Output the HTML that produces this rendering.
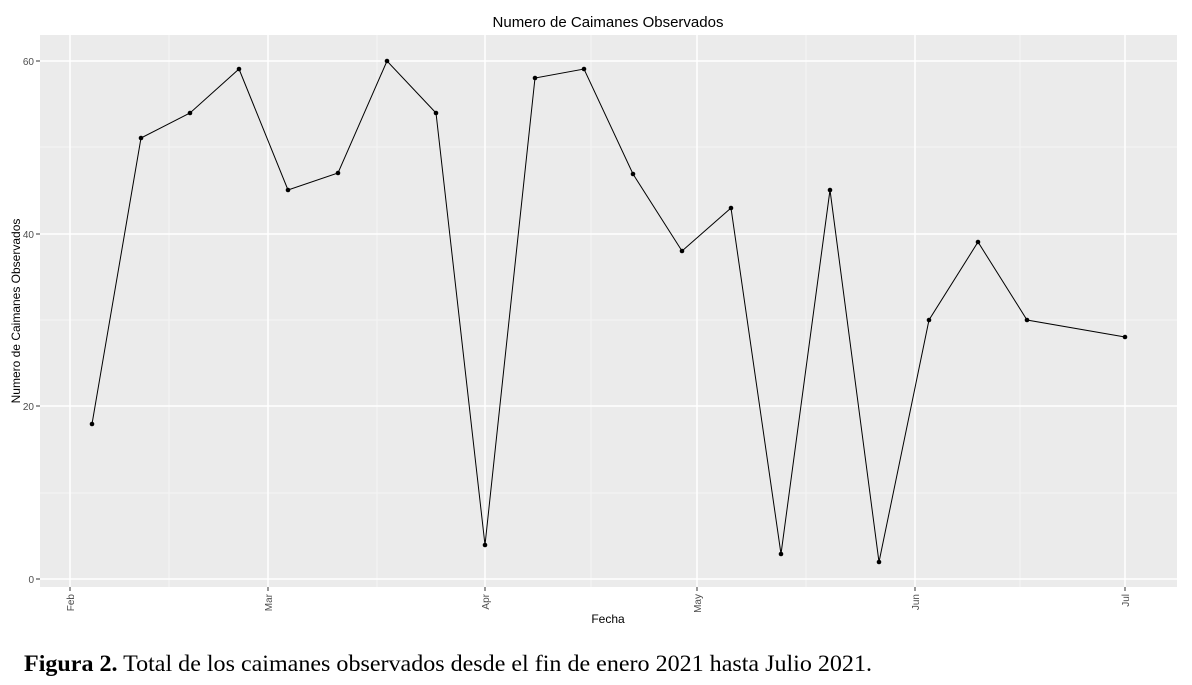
<!DOCTYPE html>
<html><head><style>
html,body{margin:0;padding:0;background:#fff;}
svg{display:block;}
</style></head><body>
<svg width="1192" height="685" xmlns="http://www.w3.org/2000/svg" font-family="Liberation Sans, Arial, sans-serif">
<rect x="0" y="0" width="1192" height="685" fill="#fff"/>
<text x="608" y="27" font-size="15" text-anchor="middle" fill="#000">Numero de Caimanes Observados</text>
<rect x="40" y="35" width="1137" height="552" fill="#ebebeb"/>
<g stroke="#f7f7f7" stroke-width="0.8">
<line x1="40" x2="1177" y1="493" y2="493"/><line x1="40" x2="1177" y1="320" y2="320"/><line x1="40" x2="1177" y1="147" y2="147"/>
<line x1="169" x2="169" y1="35" y2="587"/><line x1="377" x2="377" y1="35" y2="587"/><line x1="591" x2="591" y1="35" y2="587"/><line x1="806" x2="806" y1="35" y2="587"/><line x1="1020" x2="1020" y1="35" y2="587"/>
</g>
<g stroke="#fff" stroke-width="1.5">
<line x1="40" x2="1177" y1="579" y2="579"/><line x1="40" x2="1177" y1="406" y2="406"/><line x1="40" x2="1177" y1="234" y2="234"/><line x1="40" x2="1177" y1="61" y2="61"/>
<line x1="70" x2="70" y1="35" y2="587"/><line x1="268" x2="268" y1="35" y2="587"/><line x1="485" x2="485" y1="35" y2="587"/><line x1="697" x2="697" y1="35" y2="587"/><line x1="915" x2="915" y1="35" y2="587"/><line x1="1125" x2="1125" y1="35" y2="587"/>
</g>
<g stroke="#333" stroke-width="1">
<line x1="36" x2="40" y1="579" y2="579"/><line x1="36" x2="40" y1="406" y2="406"/><line x1="36" x2="40" y1="234" y2="234"/><line x1="36" x2="40" y1="61" y2="61"/>
<line x1="70" x2="70" y1="587" y2="591"/><line x1="268" x2="268" y1="587" y2="591"/><line x1="485" x2="485" y1="587" y2="591"/><line x1="697" x2="697" y1="587" y2="591"/><line x1="915" x2="915" y1="587" y2="591"/><line x1="1125" x2="1125" y1="587" y2="591"/>
</g>
<g font-size="10" fill="#4d4d4d" text-anchor="end">
<text x="34" y="583">0</text><text x="34" y="410">20</text><text x="34" y="238">40</text><text x="34" y="65">60</text>
</g>
<g font-size="10" fill="#4d4d4d" text-anchor="end">
<text transform="translate(74,594) rotate(-90)">Feb</text>
<text transform="translate(272,594) rotate(-90)">Mar</text>
<text transform="translate(489,594) rotate(-90)">Apr</text>
<text transform="translate(701,594) rotate(-90)">May</text>
<text transform="translate(919,594) rotate(-90)">Jun</text>
<text transform="translate(1129,594) rotate(-90)">Jul</text>
</g>
<text x="608" y="623" font-size="12" text-anchor="middle" fill="#000">Fecha</text>
<text transform="translate(20,311) rotate(-90)" font-size="12" text-anchor="middle" fill="#000">Numero de Caimanes Observados</text>
<polyline fill="none" stroke="#000" stroke-width="1" points="92,424 141,138 190,113 239,69 288,190 338,173 387,61 436,113 485,545 535,78 584,69 633,174 682,251 731,208 781,554 830,190 879,562 929,320 978,242 1027,320 1125,337"/>
<g fill="#000">
<circle cx="92" cy="424" r="2.3"/><circle cx="141" cy="138" r="2.3"/><circle cx="190" cy="113" r="2.3"/><circle cx="239" cy="69" r="2.3"/><circle cx="288" cy="190" r="2.3"/><circle cx="338" cy="173" r="2.3"/><circle cx="387" cy="61" r="2.3"/><circle cx="436" cy="113" r="2.3"/><circle cx="485" cy="545" r="2.3"/><circle cx="535" cy="78" r="2.3"/><circle cx="584" cy="69" r="2.3"/><circle cx="633" cy="174" r="2.3"/><circle cx="682" cy="251" r="2.3"/><circle cx="731" cy="208" r="2.3"/><circle cx="781" cy="554" r="2.3"/><circle cx="830" cy="190" r="2.3"/><circle cx="879" cy="562" r="2.3"/><circle cx="929" cy="320" r="2.3"/><circle cx="978" cy="242" r="2.3"/><circle cx="1027" cy="320" r="2.3"/><circle cx="1125" cy="337" r="2.3"/>
</g>
<text x="24" y="671" font-size="23" font-family="Liberation Serif, Times New Roman, serif" fill="#000" textLength="848" lengthAdjust="spacingAndGlyphs"><tspan font-weight="bold">Figura 2.</tspan> Total de los caimanes observados desde el fin de enero 2021 hasta Julio 2021.</text>
</svg>
</body></html>
